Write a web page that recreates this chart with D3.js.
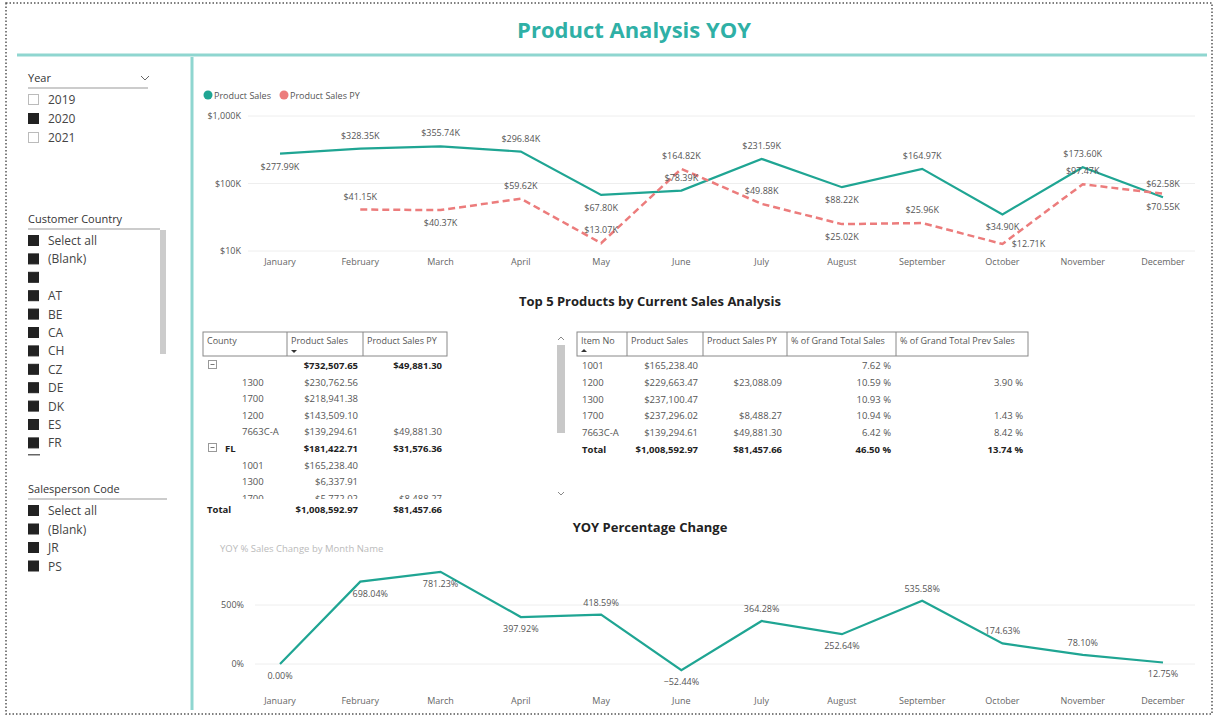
<!DOCTYPE html>
<html>
<head>
<meta charset="utf-8">
<script src="https://cdn.jsdelivr.net/npm/d3@7"></script>
<style>
  body { margin: 0; background: #fff; }
  svg { display: block; font-family: "Open Sans", "Noto Sans", sans-serif; }
</style>
</head>
<body>
<div id="chart-area"></div>
<script>
// ---- data ----
const months = ['January','February','March','April','May','June','July','August','September','October','November','December'];
const sales   = [277.99, 328.35, 355.74, 296.84, 67.80, 78.39, 231.59, 88.22, 164.97, 34.90, 173.60, 62.58];
const salesPY = [null, 41.15, 40.37, 59.62, 13.07, 164.82, 49.88, 25.02, 25.96, 12.71, 97.47, 70.55];
const yoyPct  = [0.00, 698.04, 781.23, 397.92, 418.59, -52.44, 364.28, 252.64, 535.58, 174.63, 78.10, 12.75];
const salesTicks = [10, 100, 1000];
const yoyTicks = [0, 500];

const years = ['2019','2020','2021'];
const countries = ['Select all','(Blank)','','AT','BE','CA','CH','CZ','DE','DK','ES','FR'];
const salespeople = ['Select all','(Blank)','JR','PS'];

const countyCols = ['County','Product Sales','Product Sales PY'];
const countyRows = [
  ['', '$732,507.65', '$49,881.30', 'group'],
  ['1300', '$230,762.56', '', ''],
  ['1700', '$218,941.38', '', ''],
  ['1200', '$143,509.10', '', ''],
  ['7663C-A', '$139,294.61', '$49,881.30', ''],
  ['FL', '$181,422.71', '$31,576.36', 'group'],
  ['1001', '$165,238.40', '', ''],
  ['1300', '$6,337.91', '', ''],
  ['1700', '$5,772.02', '$8,488.27', '']
];
const countyTotal = ['Total', '$1,008,592.97', '$81,457.66'];

const itemCols = ['Item No','Product Sales','Product Sales PY','% of Grand Total Sales','% of Grand Total Prev Sales'];
const itemRows = [
  ['1001', '$165,238.40', '', '7.62 %', ''],
  ['1200', '$229,663.47', '$23,088.09', '10.59 %', '3.90 %'],
  ['1300', '$237,100.47', '', '10.93 %', ''],
  ['1700', '$237,296.02', '$8,488.27', '10.94 %', '1.43 %'],
  ['7663C-A', '$139,294.61', '$49,881.30', '6.42 %', '8.42 %']
];
const itemTotal = ['Total', '$1,008,592.97', '$81,457.66', '46.50 %', '13.74 %'];

// label placement (-1 above, 1 below)
const salesLblPos = [1,-1,-1,-1,1,-1,-1,1,-1,1,-1,-1];
const pyLblPos    = [0,-1,1,-1,-1,-1,-1,1,-1,1,-1,1];
const pyLblDx     = [0,0,0,0,0,0,0,0,0,26,0,0];
const yoyLblPos   = [1,1,1,1,-1,1,-1,1,-1,-1,-1,1];

const width = 1216, height = 719;
const teal = '#1fa593', pink = '#ec7c7c', lineTeal = '#8fd6d0';

const svg = d3.select('#chart-area').append('svg')
  .attr('width', width).attr('height', height);

// outer frame
svg.append('rect').attr('x', 6).attr('y', 3).attr('width', 1206).attr('height', 711)
  .attr('fill', 'none').attr('stroke', '#555').attr('stroke-width', 1.5).attr('stroke-dasharray', '1.5,2');

svg.append('text').text('Product Analysis YOY')
  .attr('x', 634).attr('y', 38).attr('text-anchor', 'middle')
  .attr('font-size', 22).attr('font-weight', 'bold').attr('fill', '#2fb0a6');

svg.append('line').attr('x1', 17).attr('x2', 1207).attr('y1', 55).attr('y2', 55)
  .attr('stroke', lineTeal).attr('stroke-width', 3);
svg.append('line').attr('x1', 192).attr('x2', 192).attr('y1', 57).attr('y2', 710)
  .attr('stroke', lineTeal).attr('stroke-width', 3);

// ---- slicers ----
function slicer(title, items, y0, lineEnd, checked, step) {
  svg.append('text').text(title).attr('x', 28).attr('y', y0)
    .attr('font-size', 11).attr('fill', '#333');
  svg.append('line').attr('x1', 28).attr('x2', lineEnd).attr('y1', y0 + 6).attr('y2', y0 + 6)
    .attr('stroke', '#999').attr('stroke-width', 1);
  const g = svg.append('g');
  items.forEach((d, i) => {
    const y = y0 + 22 + i * step;
    const on = checked(d, i);
    g.append('rect').attr('x', 28.5).attr('y', y - 9.5).attr('width', 10).attr('height', 10)
      .attr('fill', on ? '#222' : '#fff').attr('stroke', on ? '#222' : '#bbb');
    g.append('text').text(d).attr('x', 48).attr('y', y).attr('font-size', 12).attr('fill', '#444');
  });
}
slicer('Year', years, 82, 148, d => d === '2020', 19);
svg.append('path').attr('d', 'M141,76 l4,4 l4,-4').attr('fill', 'none').attr('stroke', '#666');
slicer('Customer Country', countries, 223, 160, () => true, 18.4);
svg.append('rect').attr('x', 160).attr('y', 230).attr('width', 6).attr('height', 124).attr('fill', '#ccc');
svg.append('rect').attr('x', 28).attr('y', 454).attr('width', 12).attr('height', 1.5).attr('fill', '#666');
slicer('Salesperson Code', salespeople, 493, 167, () => true, 18.5);

// ---- top line chart ----
const x = d3.scalePoint().domain(months).range([280, 1163]);
const ySales = d3.scaleLog().domain([10, 1000]).range([251, 116]);

const fmtK = v => '$' + d3.format(',.2f')(v) + 'K';

const gTop = svg.append('g');
gTop.selectAll('.grid').data(salesTicks).enter().append('line')
  .attr('x1', 248).attr('x2', 1195)
  .attr('y1', d => ySales(d)).attr('y2', d => ySales(d))
  .attr('stroke', '#eee');
gTop.selectAll('.ytick').data(salesTicks).enter().append('text')
  .text(d => '$' + d3.format(',')(d) + 'K')
  .attr('x', 241).attr('y', d => ySales(d) + 3).attr('text-anchor', 'end')
  .attr('font-size', 9).attr('fill', '#555');
gTop.selectAll('.xtick').data(months).enter().append('text')
  .text(d => d).attr('x', d => x(d)).attr('y', 265).attr('text-anchor', 'middle')
  .attr('font-size', 9).attr('fill', '#666');

// legend
[['Product Sales', teal, 208], ['Product Sales PY', pink, 284]].forEach(([t, c, lx]) => {
  gTop.append('circle').attr('cx', lx).attr('cy', 95).attr('r', 4.5).attr('fill', c);
  gTop.append('text').text(t).attr('x', lx + 6).attr('y', 98.5).attr('font-size', 9).attr('fill', '#555');
});

const lineSales = d3.line().defined(d => d[1] != null)
  .x(d => x(d[0])).y(d => ySales(d[1]));
const salesPts = months.map((m, i) => [m, sales[i]]);
const pyPts = months.map((m, i) => [m, salesPY[i]]);

gTop.append('path').datum(salesPts).attr('d', lineSales)
  .attr('fill', 'none').attr('stroke', teal).attr('stroke-width', 2.2);
gTop.append('path').datum(pyPts).attr('d', lineSales)
  .attr('fill', 'none').attr('stroke', pink).attr('stroke-width', 2.5).attr('stroke-dasharray', '7,4');

gTop.selectAll('.lblS').data(salesPts).enter().append('text')
  .text(d => fmtK(d[1]))
  .attr('x', d => x(d[0])).attr('y', (d, i) => ySales(d[1]) + (salesLblPos[i] < 0 ? -10 : 16))
  .attr('text-anchor', 'middle').attr('font-size', 9).attr('fill', '#555');
gTop.selectAll('.lblP').data(pyPts.filter(d => d[1] != null)).enter().append('text')
  .text(d => fmtK(d[1]))
  .attr('x', d => x(d[0]) + pyLblDx[months.indexOf(d[0])])
  .attr('y', d => {
    const i = months.indexOf(d[0]);
    return ySales(d[1]) + (pyLblDx[i] ? 3 : (pyLblPos[i] < 0 ? -10 : 16));
  })
  .attr('text-anchor', 'middle').attr('font-size', 9).attr('fill', '#555');

svg.append('text').text('Top 5 Products by Current Sales Analysis')
  .attr('x', 650).attr('y', 306).attr('text-anchor', 'middle')
  .attr('font-size', 13).attr('font-weight', 'bold').attr('fill', '#222');

// ---- tables ----
function tableHeader(cols, colX, y0) {
  const g = svg.append('g').attr('font-size', 9).attr('fill', '#444');
  g.append('rect').attr('x', colX[0]).attr('y', y0).attr('width', colX[colX.length - 1] - colX[0]).attr('height', 24)
    .attr('fill', '#fff').attr('stroke', '#888');
  colX.slice(1, -1).forEach(cx => g.append('line').attr('x1', cx).attr('x2', cx).attr('y1', y0).attr('y2', y0 + 24).attr('stroke', '#888'));
  cols.forEach((c, i) => g.append('text').text(c).attr('x', colX[i] + 4).attr('y', y0 + 12).attr('fill', '#555'));
  return g;
}

// county table
const cX = [203, 287, 363, 447];
svg.append('clipPath').attr('id', 'cclip').append('rect')
  .attr('x', 200).attr('y', 357).attr('width', 250).attr('height', 142);
const gC = tableHeader(countyCols, cX, 332);
gC.append('path').attr('d', 'M291,350 l6,0 l-3,3 z').attr('fill', '#333');
const gCb = gC.append('g').attr('clip-path', 'url(#cclip)').attr('font-size', 9.5);
countyRows.forEach((r, i) => {
  const y = 369 + i * 16.6;
  const bold = r[3] === 'group';
  if (bold) {
    gCb.append('rect').attr('x', 208.5).attr('y', y - 8.5).attr('width', 8).attr('height', 8).attr('fill', '#fff').attr('stroke', '#999');
    gCb.append('line').attr('x1', 210.5).attr('x2', 214.5).attr('y1', y - 4.5).attr('y2', y - 4.5).attr('stroke', '#777');
    gCb.append('text').text(r[0]).attr('x', 225).attr('y', y).attr('font-weight', 'bold').attr('fill', '#222');
  } else {
    gCb.append('text').text(r[0]).attr('x', 242).attr('y', y).attr('fill', '#555');
  }
  [r[1], r[2]].forEach((v, j) => gCb.append('text').text(v).attr('x', cX[j + 2] - 5).attr('y', y)
    .attr('text-anchor', 'end').attr('font-weight', bold ? 'bold' : null).attr('fill', bold ? '#222' : '#555'));
});
gC.append('text').text(countyTotal[0]).attr('x', 207).attr('y', 513).attr('font-size', 9.5).attr('font-weight', 'bold').attr('fill', '#222');
[countyTotal[1], countyTotal[2]].forEach((v, j) => gC.append('text').text(v).attr('x', cX[j + 2] - 5).attr('y', 513)
  .attr('font-size', 9.5).attr('text-anchor', 'end').attr('font-weight', 'bold').attr('fill', '#222'));

// item table
const iX = [577, 627, 703, 787, 896, 1028];
const gI = tableHeader(itemCols, iX, 332);
gI.append('path').attr('d', 'M581,352 l3,-3 l3,3 z').attr('fill', '#333');
itemRows.concat([itemTotal]).forEach((r, i) => {
  const y = 369 + i * 16.8;
  const bold = i === itemRows.length;
  r.forEach((v, j) => {
    const t = gI.append('text').text(v).attr('y', y).attr('font-size', 9.5)
      .attr('font-weight', bold ? 'bold' : null).attr('fill', bold ? '#222' : '#555');
    if (j === 0) t.attr('x', 582);
    else t.attr('x', iX[j + 1] - 5).attr('text-anchor', 'end');
  });
});
// scrollbar
svg.append('rect').attr('x', 557).attr('y', 345).attr('width', 8).attr('height', 88).attr('fill', '#c8c8c8');
svg.append('path').attr('d', 'M558,340 l3,-3 l3,3').attr('fill', 'none').attr('stroke', '#888');
svg.append('path').attr('d', 'M558,492 l3,3 l3,-3').attr('fill', 'none').attr('stroke', '#888');

// ---- YOY chart ----
svg.append('text').text('YOY Percentage Change')
  .attr('x', 650).attr('y', 532).attr('text-anchor', 'middle')
  .attr('font-size', 13).attr('font-weight', 'bold').attr('fill', '#222');
svg.append('text').text('YOY % Sales Change by Month Name')
  .attr('x', 220).attr('y', 552).attr('font-size', 9.5).attr('fill', '#bbb');

const yY = d3.scaleLinear().domain([0, 500]).range([664, 605]);
const gB = svg.append('g');
gB.selectAll('.grid').data(yoyTicks).enter().append('line')
  .attr('x1', 255).attr('x2', 1195).attr('y1', d => yY(d)).attr('y2', d => yY(d)).attr('stroke', '#eee');
gB.selectAll('.ytick').data(yoyTicks).enter().append('text')
  .text(d => d + '%').attr('x', 244).attr('y', d => yY(d) + 3).attr('text-anchor', 'end')
  .attr('font-size', 9).attr('fill', '#555');
gB.selectAll('.xtick').data(months).enter().append('text')
  .text(d => d).attr('x', d => x(d)).attr('y', 704).attr('text-anchor', 'middle')
  .attr('font-size', 9).attr('fill', '#666');

const yoyPts = months.map((m, i) => [m, yoyPct[i]]);
gB.append('path').datum(yoyPts)
  .attr('d', d3.line().x(d => x(d[0])).y(d => yY(d[1])))
  .attr('fill', 'none').attr('stroke', teal).attr('stroke-width', 2.2);
gB.selectAll('.lbl').data(yoyPts).enter().append('text')
  .text(d => d3.format('.2f')(d[1]) + '%')
  .attr('x', (d, i) => x(d[0]) + (i === 1 ? 10 : 0))
  .attr('y', (d, i) => yY(d[1]) + (yoyLblPos[i] < 0 ? -9 : 15))
  .attr('text-anchor', 'middle').attr('font-size', 9).attr('fill', '#555');
</script>
</body>
</html>
